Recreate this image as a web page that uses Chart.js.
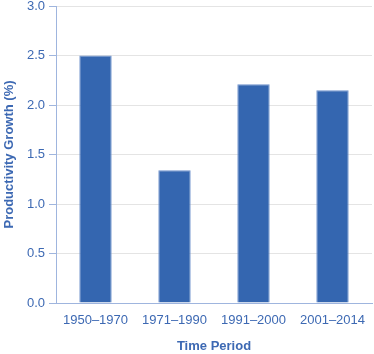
<!DOCTYPE html>
<html>
<head>
<meta charset="utf-8">
<script src="https://cdn.jsdelivr.net/npm/chart.js@4"></script>
<style>
  html, body { margin: 0; padding: 0; background: #fff; }
  #wrap { width: 374px; height: 354px; }
</style>
</head>
<body>
<div id="wrap"><canvas id="prodChart" width="374" height="354"></canvas></div>
<script>
// productivity growth by period
const periods = ['1950–1970', '1971–1990', '1991–2000', '2001–2014'];
const growth = [2.5, 1.34, 2.21, 2.15];
const yTicks = [0, 0.5, 1.0, 1.5, 2.0, 2.5, 3.0];

const blue = '#3466b0';
const textBlue = '#3d69b3';
const axisBlue = '#9fb5de';

Chart.defaults.font.family = '"Liberation Sans", Arial, sans-serif';

const ctx = document.getElementById('prodChart');
new Chart(ctx.getContext('2d'), {
    type: 'bar',
    data: {
        labels: periods,
        datasets: [{
            data: growth,
            backgroundColor: blue,
            borderColor: '#6f92cc',
            borderWidth: { left: 1, right: 1, top: 1, bottom: 0 },
            categoryPercentage: 1.0,
            barPercentage: 0.41
        }]
    },
    options: {
        responsive: false,
        animation: false,
        layout: { padding: { top: 6, right: 2, left: 0, bottom: 0 } },
        plugins: { legend: { display: false }, tooltip: { enabled: false } },
        scales: {
            x: {
                grid: { display: false, drawTicks: false },
                border: { color: axisBlue, width: 1 },
                ticks: { color: textBlue, font: { size: 13 }, padding: 10 },
                title: {
                    display: true,
                    text: 'Time Period',
                    color: textBlue,
                    font: { size: 13, weight: 'bold' },
                    padding: { top: 8, bottom: 0 }
                },
                afterFit: s => { s.height = 51; s.paddingLeft = 0; s.paddingRight = 0; }
            },
            y: {
                min: 0,
                max: 3,
                afterBuildTicks: s => { s.ticks = yTicks.map(v => ({ value: v })); },
                grid: { color: '#e4e4e4', lineWidth: 1, tickLength: 7, tickColor: axisBlue },
                border: { color: axisBlue, width: 1 },
                ticks: {
                    color: textBlue,
                    font: { size: 13 },
                    padding: 4,
                    callback: v => Number(v).toFixed(1)
                },
                title: {
                    display: true,
                    text: 'Productivity Growth (%)',
                    color: textBlue,
                    font: { size: 13, weight: 'bold' },
                    padding: { top: 1.5, bottom: 0 }
                },
                afterFit: s => { s.width = 56; s.paddingTop = 0; s.paddingBottom = 0; }
            }
        }
    }
});
</script>
</body>
</html>
